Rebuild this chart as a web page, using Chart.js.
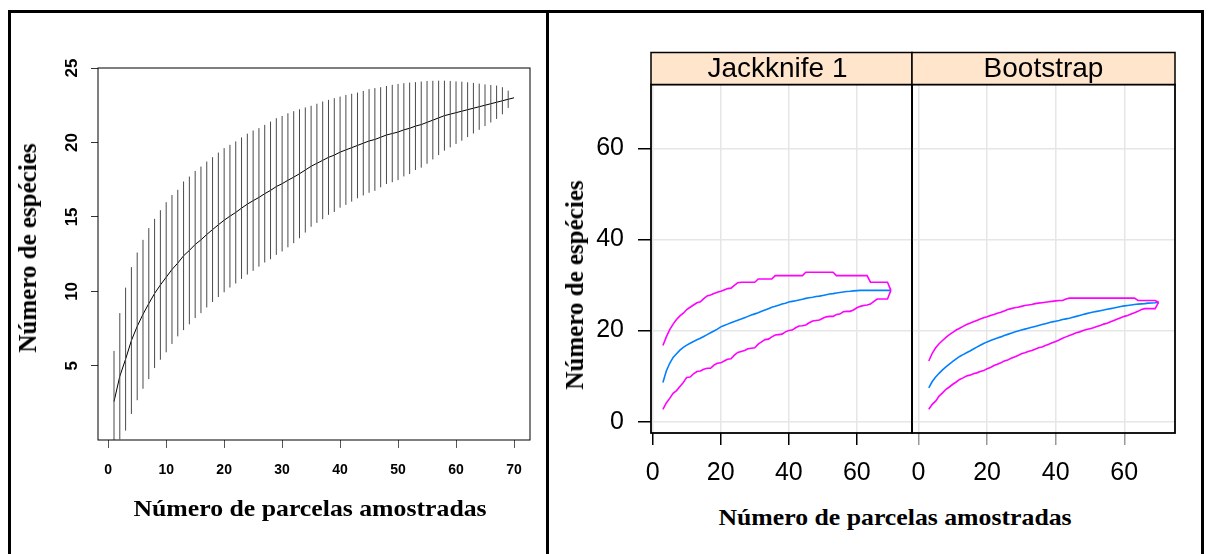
<!DOCTYPE html>
<html lang="pt">
<head>
<meta charset="utf-8">
<title>Curvas de acumulação de espécies</title>
<script src="https://cdn.jsdelivr.net/npm/chart.js@4.4.1/dist/chart.umd.min.js"></script>
<style>
  html, body { margin: 0; padding: 0; background: #fff; }
  body { width: 1213px; height: 554px; position: relative; overflow: hidden; }
  #moldura { position: absolute; left: 8px; top: 10px; width: 1196px; height: 600px; border: 3px solid #000; box-sizing: border-box; }
  #divisor { position: absolute; left: 546px; top: 10px; width: 3px; height: 600px; background: #000; }
  canvas { position: absolute; }
  .titulo { position: absolute; font: bold 23px "Liberation Serif", "Times New Roman", serif; white-space: nowrap; color: #000;
            transform: translate(-50%, -50%) scaleX(1.12); }
  .vertical { font-size: 25px; transform: translate(-50%, -50%) rotate(-90deg); }
</style>
</head>
<body>
<div id="moldura"></div>
<div id="divisor"></div>
<canvas id="acumulacao" width="530" height="460" style="left:20px;top:40px"></canvas>
<canvas id="jackknife" width="353" height="450" style="left:560px;top:40px"></canvas>
<canvas id="bootstrap" width="282" height="450" style="left:910px;top:40px"></canvas>
<div class="titulo" style="left:310px;top:509px">Número de parcelas amostradas</div>
<div class="titulo vertical" style="left:28px;top:248px">Número de espécies</div>
<div class="titulo" style="left:895px;top:518px">Número de parcelas amostradas</div>
<div class="titulo vertical" style="left:575px;top:285px">Número de espécies</div>
<script>
// curva de acumulação (esquerda): média e meio-intervalo (2 dp) por nº de parcelas
const parcelas = [1, 2, 3, 4, 5, 6, 7, 8, 9, 10, 11, 12, 13, 14, 15, 16, 17, 18, 19, 20,
    21, 22, 23, 24, 25, 26, 27, 28, 29, 30, 31, 32, 33, 34, 35, 36, 37, 38, 39, 40,
    41, 42, 43, 44, 45, 46, 47, 48, 49, 50, 51, 52, 53, 54, 55, 56, 57, 58, 59, 60,
    61, 62, 63, 64, 65, 66, 67, 68, 69, 70];
const accMedia = [2.6, 4.3, 5.45, 6.7, 7.65, 8.46, 9.18, 9.86, 10.43, 10.95,
    11.47, 11.9, 12.39, 12.75, 13.15, 13.46, 13.82, 14.15, 14.47, 14.78,
    15.05, 15.3, 15.59, 15.86, 16.09, 16.31, 16.56, 16.78, 17.04, 17.23,
    17.46, 17.67, 17.9, 18.15, 18.4, 18.6, 18.8, 19.0, 19.15, 19.35,
    19.5, 19.65, 19.8, 19.95, 20.1, 20.2, 20.35, 20.5, 20.6, 20.7,
    20.85, 20.95, 21.1, 21.2, 21.35, 21.5, 21.65, 21.8, 21.9, 22.0,
    22.1, 22.2, 22.3, 22.4, 22.5, 22.6, 22.7, 22.8, 22.9, 23.0];
const accIc = [3.4, 4.24, 4.8, 4.93, 4.96, 5.0, 5.07, 5.01, 5.02, 5.04,
    5.0, 4.92, 4.99, 4.96, 4.94, 4.92, 4.9, 4.86, 4.85, 4.84,
    4.79, 4.77, 4.75, 4.73, 4.71, 4.65, 4.62, 4.62, 4.59, 4.55,
    4.5, 4.43, 4.33, 4.2, 4.06, 4.0, 3.95, 3.86, 3.82, 3.73,
    3.69, 3.62, 3.55, 3.51, 3.48, 3.45, 3.36, 3.29, 3.27, 3.23,
    3.13, 3.07, 2.95, 2.89, 2.78, 2.64, 2.5, 2.35, 2.23, 2.1,
    1.98, 1.84, 1.7, 1.55, 1.4, 1.26, 1.12, 0.91, 0.58, 0];

// painéis da direita (poolaccum)
const tamanhos = [3, 4, 5, 6, 7, 8, 9, 10, 11, 12, 13, 14, 15, 16, 17, 18, 19, 20, 21, 22,
    23, 24, 25, 26, 27, 28, 29, 30, 31, 32, 33, 34, 35, 36, 37, 38, 39, 40, 41, 42,
    43, 44, 45, 46, 47, 48, 49, 50, 51, 52, 53, 54, 55, 56, 57, 58, 59, 60, 61, 62,
    63, 64, 65, 66, 67, 68, 69, 70];
const jackMedia = [8.6, 11.1, 12.8, 14.1, 14.9, 15.7, 16.3, 16.8, 17.2, 17.6,
    17.95, 18.3, 18.7, 19.1, 19.5, 19.9, 20.3, 20.8, 21.1, 21.4,
    21.7, 22.0, 22.25, 22.5, 22.8, 23.1, 23.4, 23.65, 23.9, 24.2,
    24.5, 24.8, 25.1, 25.3, 25.55, 25.8, 26.0, 26.25, 26.4, 26.55,
    26.7, 26.85, 27.05, 27.2, 27.3, 27.45, 27.55, 27.7, 27.85, 28.0,
    28.1, 28.25, 28.35, 28.45, 28.55, 28.6, 28.7, 28.75, 28.8, 28.8,
    28.8, 28.8, 28.8, 28.8, 28.8, 28.8, 28.8, 28.8];
const jackSup = [16.7, 18.6, 20.2, 21.4, 22.4, 23.2, 23.8, 24.6, 25.1, 25.6,
    26.1, 26.3, 27.0, 27.6, 27.8, 28.1, 28.4, 28.6, 28.9, 29.2,
    29.3, 29.9, 30.5, 30.6, 30.6, 30.6, 30.6, 30.6, 31.3, 31.3,
    31.3, 31.3, 31.3, 32.05, 32.05, 32.05, 32.05, 32.05, 32.05, 32.05,
    32.05, 32.05, 32.8, 32.8, 32.8, 32.8, 32.8, 32.8, 32.8, 32.8,
    32.8, 32.05, 32.05, 32.05, 32.05, 32.05, 32.05, 32.05, 32.05, 32.05,
    32.05, 30.6, 30.6, 30.6, 30.6, 30.6, 30.6, 28.8];
const jackInf = [2.7, 4.1, 5.1, 6.2, 6.8, 7.7, 8.6, 9.7, 9.8, 10.5,
    11.0, 11.1, 11.5, 11.7, 11.7, 12.4, 12.8, 12.9, 13.3, 13.7,
    13.8, 14.6, 15.2, 15.4, 15.6, 16.0, 16.1, 16.2, 17.0, 17.5,
    18.0, 18.1, 18.6, 19.0, 19.1, 19.2, 19.7, 20.0, 20.1, 20.6,
    21.0, 21.05, 21.2, 21.7, 22.1, 22.2, 22.3, 22.7, 23.0, 23.1,
    23.1, 23.5, 23.6, 24.1, 24.2, 24.2, 24.5, 25.0, 25.3, 25.5,
    25.6, 25.8, 26.4, 26.9, 26.9, 26.9, 26.9, 28.8];
const bootMedia = [7.4, 8.8, 9.8, 10.6, 11.35, 12.0, 12.6, 13.2, 13.75, 14.3,
    14.7, 15.1, 15.5, 15.95, 16.35, 16.75, 17.15, 17.5, 17.8, 18.1,
    18.35, 18.6, 18.9, 19.15, 19.4, 19.65, 19.9, 20.1, 20.3, 20.5,
    20.7, 20.9, 21.1, 21.3, 21.5, 21.7, 21.9, 22.05, 22.2, 22.4,
    22.55, 22.7, 22.9, 23.1, 23.3, 23.5, 23.7, 23.9, 24.05, 24.2,
    24.35, 24.5, 24.65, 24.8, 24.95, 25.1, 25.25, 25.4, 25.5, 25.6,
    25.7, 25.8, 25.85, 25.9, 26.0, 26.05, 26.1, 26.2];
const bootSup = [13.3, 15.0, 16.2, 17.1, 17.8, 18.5, 19.1, 19.6, 20.1, 20.5,
    20.9, 21.3, 21.6, 21.9, 22.2, 22.5, 22.8, 23.0, 23.3, 23.5,
    23.8, 24.0, 24.3, 24.6, 24.8, 25.0, 25.1, 25.3, 25.5, 25.6,
    25.7, 25.9, 26.0, 26.1, 26.2, 26.3, 26.4, 26.5, 26.6, 26.6,
    26.9, 27.1, 27.1, 27.1, 27.1, 27.1, 27.1, 27.1, 27.1, 27.1,
    27.1, 27.1, 27.1, 27.1, 27.1, 27.1, 27.1, 27.1, 27.1, 27.1,
    27.1, 26.6, 26.6, 26.6, 26.6, 26.6, 26.6, 26.2];
const bootInf = [2.7, 3.8, 4.5, 5.6, 6.3, 7.1, 7.6, 8.2, 8.7, 9.25,
    9.6, 10.0, 10.2, 10.5, 10.7, 11.0, 11.2, 11.6, 11.9, 12.3,
    12.6, 12.9, 13.3, 13.5, 13.9, 14.2, 14.5, 14.9, 15.1, 15.4,
    15.6, 15.9, 16.2, 16.4, 16.7, 17.0, 17.3, 17.6, 17.9, 18.3,
    18.6, 18.9, 19.2, 19.5, 19.7, 20.0, 20.2, 20.4, 20.6, 20.9,
    21.1, 21.4, 21.6, 21.9, 22.2, 22.5, 22.8, 23.1, 23.3, 23.6,
    23.9, 24.2, 24.6, 24.8, 24.8, 24.8, 24.8, 26.2];

const esqTicksX = [0, 10, 20, 30, 40, 50, 60, 70];
const esqTicksY = [5, 10, 15, 20, 25];
const dirTicksX = [0, 20, 40, 60];
const dirTicksY = [0, 20, 40, 60];
const paineis = ['Jackknife 1', 'Bootstrap'];

Chart.defaults.font.family = '"Liberation Sans", Arial, sans-serif';
Chart.defaults.color = '#000';

// caixa em volta da área do gráfico
const caixa = {
    id: 'caixa',
    afterDatasetsDraw(chart, args, opts) {
        const a = chart.chartArea;
        const ctx = chart.ctx;
        ctx.save();
        ctx.strokeStyle = opts.color;
        ctx.lineWidth = opts.width;
        ctx.strokeRect(a.left, a.top, a.right - a.left, a.bottom - a.top);
        ctx.restore();
    }
};

// faixa (strip) do lattice com o nome do painel
const faixa = {
    id: 'faixa',
    afterDraw(chart, args, opts) {
        if (!opts.text) return;
        const a = chart.chartArea;
        const ctx = chart.ctx;
        ctx.save();
        ctx.fillStyle = '#FFE5CC';
        ctx.fillRect(a.left, a.top - opts.height, a.right - a.left, opts.height);
        ctx.strokeStyle = '#000';
        ctx.lineWidth = 1.5;
        ctx.strokeRect(a.left, a.top - opts.height, a.right - a.left, opts.height);
        ctx.fillStyle = '#000';
        ctx.font = '28px "Liberation Sans", Arial, sans-serif';
        ctx.textAlign = 'center';
        ctx.textBaseline = 'middle';
        ctx.fillText(opts.text, (a.left + a.right) / 2 + (opts.dx || 0), a.top - opts.height / 2 + 1);
        ctx.restore();
    }
};

function larguraFixa(w) {
    return s => { s.width = w; s.paddingTop = 0; s.paddingBottom = 0; s.paddingLeft = 0; s.paddingRight = 0; };
}
function alturaFixa(h) {
    return s => { s.height = h; s.paddingTop = 0; s.paddingBottom = 0; s.paddingLeft = 0; s.paddingRight = 0; };
}
function ticksFixos(lista) {
    return s => { s.ticks = lista.map(v => ({ value: v })); };
}

// Gráfico da esquerda: barras verticais do intervalo + curva média
const barras = [];
parcelas.forEach((n, i) => {
    barras.push({ x: n, y: accMedia[i] - accIc[i] });
    barras.push({ x: n, y: accMedia[i] + accIc[i] });
    barras.push({ x: n, y: null });
});

new Chart(document.getElementById('acumulacao'), {
    type: 'line',
    data: {
        datasets: [{
            data: barras,
            borderColor: '#4a4a4a',
            borderWidth: 1,
            pointRadius: 0,
            spanGaps: false
        }, {
            data: parcelas.map((n, i) => ({ x: n, y: accMedia[i] })),
            borderColor: '#000',
            borderWidth: 1,
            pointRadius: 0
        }]
    },
    options: {
        responsive: false,
        animation: false,
        events: [],
        layout: { padding: { top: 28, right: 20, left: 0, bottom: 0 } },
        plugins: {
            legend: { display: false },
            tooltip: { enabled: false },
            caixa: { color: '#000', width: 1 },
            faixa: { text: '' }
        },
        scales: {
            x: {
                type: 'linear',
                min: -1.76,
                max: 72.76,
                afterBuildTicks: ticksFixos(esqTicksX),
                afterFit: alturaFixa(60),
                border: { display: false },
                grid: { drawOnChartArea: false, tickLength: 8, tickColor: '#555', tickWidth: 1 },
                ticks: { font: { size: 14, weight: 'bold' }, padding: 14, maxRotation: 0 }
            },
            y: {
                type: 'linear',
                min: 0.02,
                max: 25,
                afterBuildTicks: ticksFixos(esqTicksY),
                afterFit: larguraFixa(78),
                border: { display: false },
                grid: { drawOnChartArea: false, tickLength: 7, tickColor: '#333', tickWidth: 1 },
                ticks: { font: { size: 17, weight: 'bold' }, padding: 9, minRotation: 90, maxRotation: 90, crossAlign: 'center' }
            }
        }
    },
    plugins: [caixa, faixa]
});

// Painéis da direita
function painel(id, nome, media, sup, inf, xMin, xMax, comEixoY, larguraY, padDireita, corTick, dx) {
    const pontos = serie => tamanhos.map((n, i) => ({ x: n, y: serie[i] }));
    return new Chart(document.getElementById(id), {
        type: 'line',
        data: {
            datasets: [
                { data: pontos(sup), borderColor: '#FF00FF', borderWidth: 1.6, pointRadius: 0 },
                { data: pontos(inf), borderColor: '#FF00FF', borderWidth: 1.6, pointRadius: 0 },
                { data: pontos(media), borderColor: '#0080FF', borderWidth: 1.6, pointRadius: 0 }
            ]
        },
        options: {
            responsive: false,
            animation: false,
            events: [],
            layout: { padding: { top: 44.5, right: padDireita, left: 0, bottom: 0 } },
            plugins: {
                legend: { display: false },
                tooltip: { enabled: false },
                caixa: { color: '#000', width: 1.8 },
                faixa: { text: nome, height: 32, dx: dx }
            },
            scales: {
                x: {
                    type: 'linear',
                    min: xMin,
                    max: xMax,
                    afterBuildTicks: ticksFixos(dirTicksX),
                    afterFit: alturaFixa(57),
                    border: { display: false },
                    grid: { color: '#e6e6e6', lineWidth: 1.5, tickLength: 12, tickColor: corTick, tickWidth: 1.5 },
                    ticks: { font: { size: 25 }, padding: 13, maxRotation: 0 }
                },
                y: {
                    type: 'linear',
                    min: -2.5,
                    max: 74,
                    afterBuildTicks: ticksFixos(dirTicksY),
                    afterFit: larguraFixa(larguraY),
                    border: { display: false },
                    grid: { color: '#e6e6e6', lineWidth: 1.5, drawTicks: comEixoY, tickLength: comEixoY ? 13 : 0, tickColor: '#000', tickWidth: 1.5 },
                    ticks: { display: comEixoY, font: { size: 25 }, padding: 14 }
                }
            }
        },
        plugins: [caixa, faixa]
    });
}

painel('jackknife', paineis[0], jackMedia, jackSup, jackInf, -0.5, 76.2, true, 91, 1, '#000', -4);
painel('bootstrap', paineis[1], bootMedia, bootSup, bootInf, -1.9, 74.8, false, 2, 17, '#999', 0);
</script>
</body>
</html>
